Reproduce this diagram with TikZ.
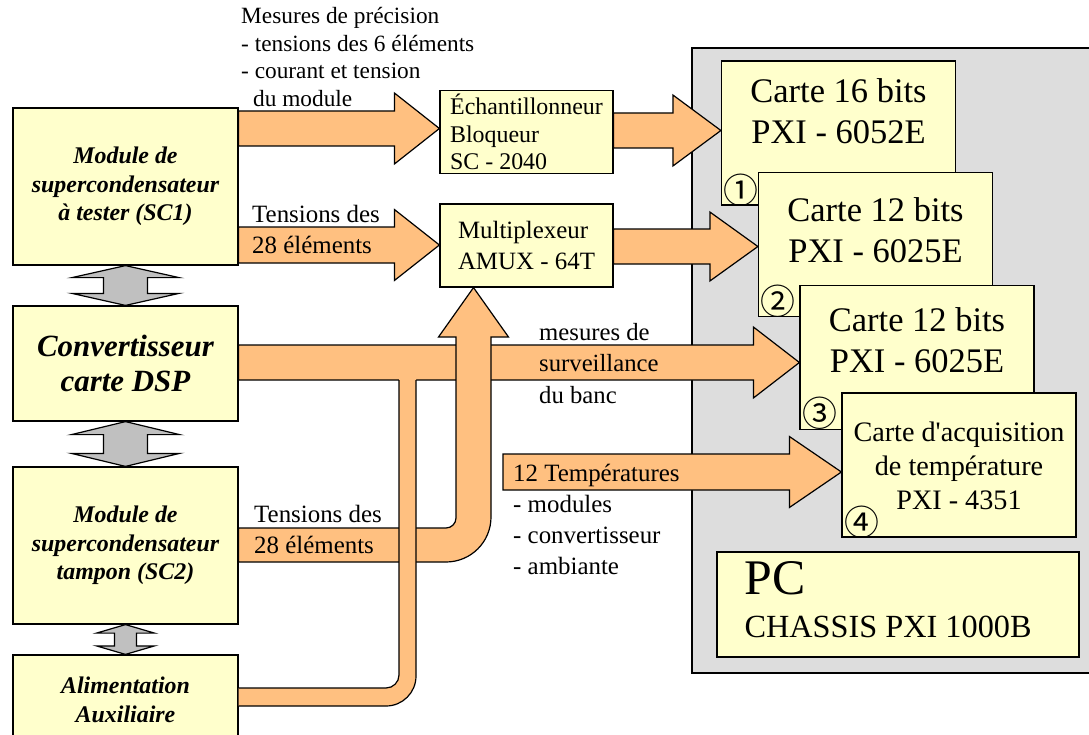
\documentclass[tikz,border=0pt]{standalone}
\usepackage{fontspec}
\setmainfont{Liberation Serif}[Ligatures=TeXOff]
\newfontfamily\numfont{Noto Sans CJK SC}
\usetikzlibrary{positioning,calc}
\definecolor{boxyellow}{RGB}{255,255,204}
\definecolor{flecheorange}{RGB}{255,192,128}
\definecolor{flechegris}{RGB}{192,192,192}
\definecolor{fondpxi}{RGB}{221,221,221}
% fleche pleine horizontale: depart, pointe, demi-corps, demi-tete, longueur tete
\newcommand{\flecheh}[5]{%
  \draw[fleche] ($(#1)+(0,-#3)$) -- ($(#2)+(-#5,-#3)$) -- ($(#2)+(-#5,-#4)$) -- (#2)
    -- ($(#2)+(-#5,#4)$) -- ($(#2)+(-#5,#3)$) -- ($(#1)+(0,#3)$) -- cycle;}
% double fleche verticale: pointe haute, pointe basse, demi-tete, demi-corps, longueur tete
\newcommand{\flechedouble}[5]{%
  \draw[flechedbl] (#1) -- ($(#1)+(#3,#5)$) -- ($(#1)+(#4,#5)$) -- ($(#2)+(#4,-#5)$)
    -- ($(#2)+(#3,-#5)$) -- (#2) -- ($(#2)+(-#3,-#5)$) -- ($(#2)+(-#4,-#5)$)
    -- ($(#1)+(-#4,#5)$) -- ($(#1)+(-#3,#5)$) -- cycle;}
\begin{document}
\begin{tikzpicture}[x=1bp, y=-1bp,
    boite/.style={draw, line width=1.2bp, fill=boxyellow, inner sep=0pt},
    module/.style={boite, minimum width=225bp, align=center, font=\bfseries\itshape\fontsize{24}{28.5}\selectfont},
    bloc/.style={boite, minimum width=173bp, minimum height=83bp, align=left},
    carte/.style={boite, minimum width=234bp, minimum height=144bp},
    cartetexte/.style={align=center, inner sep=0pt, font=\fontsize{34.6}{41}\selectfont},
    etiquette/.style={align=left, inner sep=0pt, anchor=north west, font=\fontsize{25}{31}\selectfont},
    num/.style={inner sep=0pt, font=\numfont\fontsize{35}{35}\selectfont},
    fleche/.style={draw, line width=1.2bp, fill=flecheorange, line join=miter},
    bord/.style={draw, line width=1.2bp},
    flechedbl/.style={draw, line width=1.2bp, fill=flechegris}]
\useasboundingbox (0,0) rectangle (1089,735);
\clip (0,0) rectangle (1089,735);

\draw[line width=1.2bp, fill=fondpxi] (692,48) rectangle (1100,673);

\node[carte] (c1) at (838.5,133) {};
\node[carte] (c2) at (875.5,244.5) {};
\node[carte] (c3) at (917,357.5) {};
\node[carte] (c4) at (959,465) {};
\node[boite, minimum width=362bp, minimum height=105bp] (pc) at (898,604.5) {};

\node[cartetexte, below=18bp of c1.north] (c1t) {Carte 16 bits\\PXI - 6052E};
\node[cartetexte, below=25.5bp of c2.north] (c2t) {Carte 12 bits\\PXI - 6025E};
\node[cartetexte, below=22.5bp of c3.north] (c3t) {Carte 12 bits\\PXI - 6025E};
\node[cartetexte, below=29.5bp of c4.north, font=\fontsize{28.3}{34}\selectfont] (c4t) {Carte d'acquisition\\de température\\PXI - 4351};
\node[num] (n1) at ($(c1.south west)+(20,-15)$) {①};
\node[num] (n2) at ($(c2.south west)+(20,-16)$) {②};
\node[num] (n3) at ($(c3.south west)+(21,-17)$) {③};
\node[num] (n4) at ($(c4.south west)+(21,-15)$) {④};
\node[anchor=base west, inner sep=0pt, font=\fontsize{50}{50}\selectfont] (pct1) at ($(pc.north west)+(28,43)$) {PC};
\node[anchor=base west, inner sep=0pt, font=\fontsize{32.4}{32.4}\selectfont] (pct2) at ($(pc.north west)+(28,86)$) {CHASSIS PXI 1000B};

\node[module, minimum height=157bp] (sc1) at (125.5,186.5) {Module de\\supercondensateur\\à tester (SC1)};
\node[module, minimum height=115bp, font=\bfseries\itshape\fontsize{31}{35}\selectfont] (conv) at (125.5,363.5) {Convertisseur\\carte DSP};
\node[module, minimum height=157bp] (sc2) at (125.5,545.5) {Module de\\supercondensateur\\tampon (SC2)};
\node[module, minimum height=90bp] (alim) at (125.5,700) {Alimentation\\Auxiliaire};
\node[bloc, font=\fontsize{24}{27.5}\selectfont] (ech) at (526.5,132) {Échantillonneur\\Bloqueur\\SC - 2040};
\node[bloc, font=\fontsize{25}{31}\selectfont] (mux) at (526.5,245.5) {Multiplexeur\\AMUX - 64T};

\flechedouble{sc1.south}{conv.north}{53.5}{22}{12}
\flechedouble{conv.south}{sc2.north}{54}{22}{13}
\flechedouble{sc2.south}{alim.north}{29}{11}{8.5}

\flecheh{sc1.east |- 0,128.5}{ech.west |- 0,128.5}{17.5}{35.5}{45}
\flecheh{sc1.east |- 0,245}{mux.west |- 0,245}{18}{35.5}{45}
\flecheh{ech.east |- 0,130.5}{c1.west |- 0,130.5}{17.5}{35.5}{48}
\flecheh{mux.east |- 0,246.5}{c2.west |- 0,246.5}{17.5}{34.5}{48}
\flecheh{conv.east |- 0,362.5}{c3.west |- 0,362.5}{17.5}{35.5}{46}
\coordinate (tdebut) at (503,472);
\flecheh{tdebut}{c4.west |- tdebut}{18}{35.5}{52}

\draw[fleche] (sc2.east |- 0,528) -- (446,528) .. controls (451.5,528) and (456,523.5) .. (456,518)
  -- (456,337) -- (438.5,337) -- (473.5,0 |- mux.south) -- (508.5,337) -- (491,337)
  -- (491,517) .. controls (491,541.9) and (470.9,562) .. (446,562) -- (sc2.east |- 0,562) -- cycle;

\fill[flecheorange] (alim.east |- 0,688) -- (386,688) .. controls (393.2,688) and (399,682.2) .. (399,675)
  -- (399,378.5) -- (416,378.5) -- (416,676) .. controls (416,692.6) and (402.6,706) .. (386,706)
  -- (alim.east |- 0,706) -- cycle;
\draw[bord] (alim.east |- 0,688) -- (386,688) .. controls (393.2,688) and (399,682.2) .. (399,675) -- (399,380);
\draw[bord] (416,380) -- (416,676) .. controls (416,692.6) and (402.6,706) .. (386,706) -- (alim.east |- 0,706);

\node[etiquette, font=\fontsize{23.4}{27.7}\selectfont] (prec) at (241,7) {Mesures de précision\\- tensions des 6 éléments\\- courant et tension\\\hspace*{12bp}du module};
\node[etiquette] (tensA) at (252,205) {Tensions des\\28 éléments};
\node[etiquette] (tensB) at (254,505) {Tensions des\\28 éléments};
\node[etiquette, font=\fontsize{24.8}{31.5}\selectfont] (surv) at (539,323) {mesures de\\surveillance\\du banc};
\node[etiquette] (temp) at (513,464) {12 Températures\\- modules\\- convertisseur\\- ambiante};
\end{tikzpicture}
\end{document}
